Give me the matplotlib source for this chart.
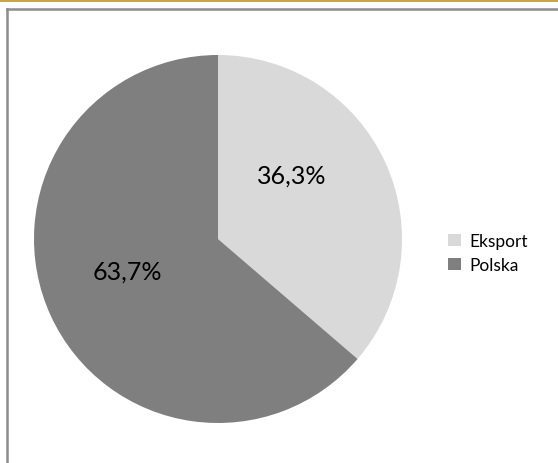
import matplotlib
matplotlib.use("Agg")
import matplotlib.pyplot as plt
from matplotlib.patches import Rectangle
from matplotlib.lines import Line2D

categories = ["Eksport", "Polska"]
values = [36.3, 63.7]
labels = ["36,3%", "63,7%"]
colors = ["#d9d9d9", "#7f7f7f"]

plt.rcParams['font.family'] = ['Lato', 'DejaVu Sans']

W, H = 558, 464
fig = plt.figure(figsize=(W/100, H/100), dpi=100)
fig.patch.set_facecolor("white")

# gold top bar
fig.add_artist(Rectangle((0, 1 - 2.5/H), 1, 2.5/H, transform=fig.transFigure,
                         facecolor="#c9a548", edgecolor="none"))
# chart frame (left + top visible)
fig.add_artist(Line2D([6.5/W, 6.5/W], [0, 1 - 9.5/H], transform=fig.transFigure,
                      color="#8c8c8c", lw=1.8))
fig.add_artist(Line2D([6.5/W, 1], [1 - 9.5/H, 1 - 9.5/H], transform=fig.transFigure,
                      color="#8c8c8c", lw=1.8))

cx, cy, r = 218, 240, 184
ax = fig.add_axes([(cx - r)/W, (H - cy - r)/H, 2*r/W, 2*r/H])
wedges, _ = ax.pie(values, colors=colors, startangle=90, counterclock=False,
                   wedgeprops=dict(linewidth=0))
ax.set_xlim(-1, 1)
ax.set_ylim(-1, 1)
ax.set_aspect("equal")
ax.axis("off")

label_pos = [(0.402, 0.348), (-0.495, -0.174)]
for (x, y), t in zip(label_pos, labels):
    ax.text(x, y, t, ha="center", va="center", fontsize=18, color="black")

leg = fig.legend(wedges, categories, loc="center left",
                 bbox_to_anchor=(441/W, 1 - 254/H), frameon=False,
                 fontsize=12.5, handlelength=0.75, handleheight=0.7,
                 handletextpad=0.5, labelspacing=0.45, borderaxespad=0)

fig.savefig("out.png", dpi=100, facecolor="white")
